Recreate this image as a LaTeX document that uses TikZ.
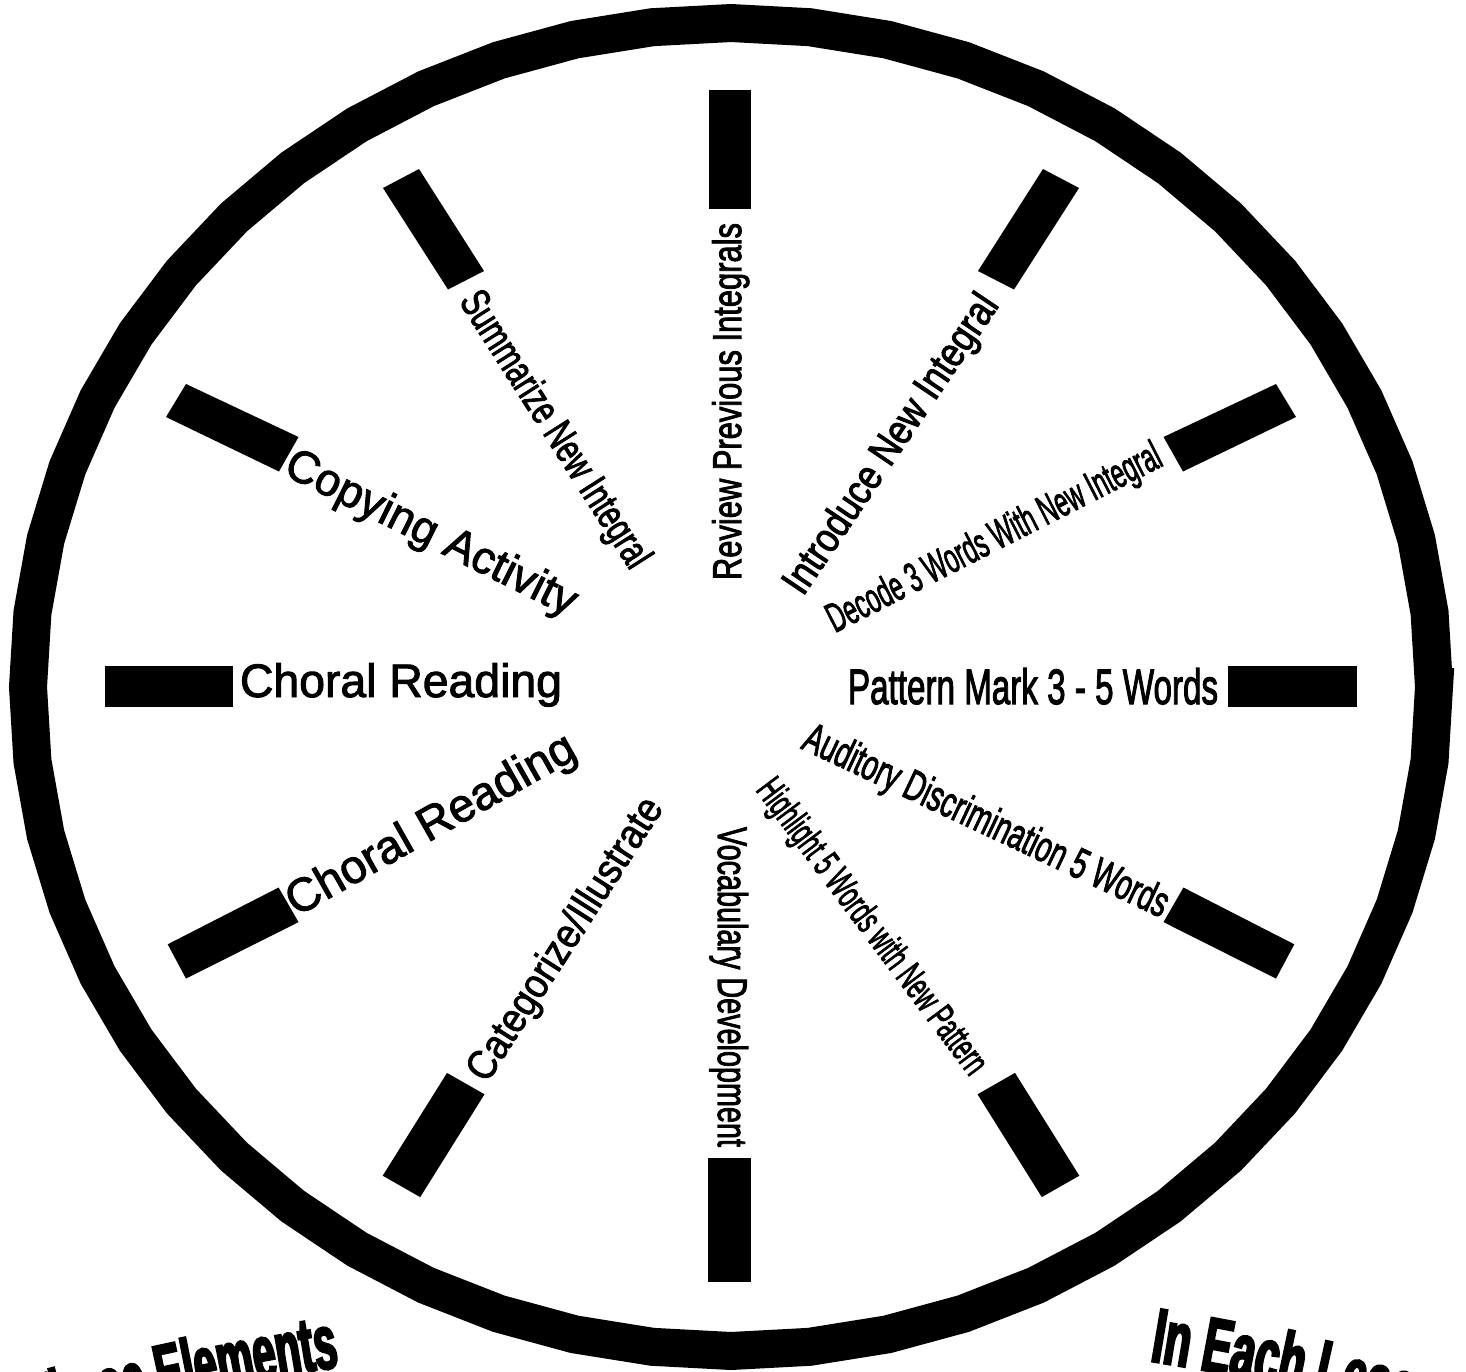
\documentclass[tikz,border=0pt]{standalone}
\usepackage{fontspec}
\usepackage{graphicx}
\setmainfont{Liberation Sans}
\newfontfamily\regfam{Liberation Sans}[FakeBold=2]
\newfontfamily\narfam{Liberation Sans}[FakeBold=2.5]
\newfontfamily\impfam{Liberation Sans Bold}[FakeStretch=0.56,FakeBold=3]
\newfontfamily\impfamL{Liberation Sans Bold}[FakeStretch=0.53,FakeBold=3]
\usetikzlibrary{decorations.text}
\tikzset{
  lab/.style={anchor=base west, inner sep=0pt, outer sep=0pt, font=\narfam},
  reglab/.style={lab, font=\regfam},
  spoke/.style={fill=black},
  ringline/.style={draw=black, line width=38pt, line join=miter},
}
\newcommand\mylbl[3]{\resizebox{#1pt}{#2pt}{#3}}
\newcommand\impsize{\impfam\fontsize{77}{77}\selectfont}
\newcommand\impsizeL{\impfamL\fontsize{77}{77}\selectfont}
\begin{document}
\begin{tikzpicture}[x=1pt,y=-1pt]
\useasboundingbox (0,0) rectangle (1466,1371);
\clip (0,0) rectangle (1466,1371);
\fill[white] (0,0) rectangle (1466,1371);
% ring
\draw[ringline] plot[domain=0:360, samples=57] ({731+703*cos(\x)},{687+664*sin(\x)}) -- cycle;
% spokes
\fill[spoke] (709,90) -- (751,90) -- (751,209) -- (709,209) -- cycle;
\fill[spoke] (708,1158) -- (751,1158) -- (751,1282) -- (708,1282) -- cycle;
\fill[spoke] (105,666) -- (233,666) -- (233,707) -- (105,707) -- cycle;
\fill[spoke] (1228,666) -- (1357,666) -- (1357,707) -- (1228,707) -- cycle;
\fill[spoke] (383,188) -- (419,169) -- (484,271) -- (448,289.5) -- cycle;
\fill[spoke] (1079,188) -- (1043,169) -- (978,271) -- (1014,289.5) -- cycle;
\fill[spoke] (166,417) -- (186,384) -- (298.5,437) -- (279,471.5) -- cycle;
\fill[spoke] (1296,417) -- (1276,384) -- (1163.5,437) -- (1183,471.5) -- cycle;
\fill[spoke] (167.7,944.3) -- (278.6,887.5) -- (298.5,922.1) -- (186,978.6) -- cycle;
\fill[spoke] (1294.3,944.3) -- (1183.4,887.5) -- (1163.5,922.1) -- (1276,978.6) -- cycle;
\fill[spoke] (447,1072.9) -- (484.5,1094.3) -- (420.2,1197.1) -- (382.7,1175.7) -- cycle;
\fill[spoke] (1015,1072.9) -- (977.5,1094.3) -- (1041.8,1197.1) -- (1079.3,1175.7) -- cycle;
% labels
\node[lab, rotate=90] (review) at (741,580) {\mylbl{357}{29}{Review Previous Integrals}};
\node[lab, rotate=-90] (vocab) at (718,827) {\mylbl{320}{30}{Vocabulary Development}};
\node[lab] (pattern) at (848,704) {\mylbl{370}{36}{Pattern Mark 3 - 5 Words}};
\node[reglab] (choralA) at (240,697) {\mylbl{322}{34}{Choral Reading}};
\node[reglab, rotate=29.5] (choralB) at (296.5,917) {\mylbl{325}{34}{Choral Reading}};
\node[reglab, rotate=-26.5] (copying) at (282,474) {\mylbl{320}{33}{Copying Activity}};
\node[lab, rotate=-57.5] (summ) at (458.6,301.4) {\mylbl{320}{30}{Summarize New Integral}};
\node[lab, rotate=56] (intro) at (803,597) {\mylbl{352}{30}{Introduce New Integral}};
\node[lab, rotate=27] (decode) at (835,633) {\mylbl{370}{30}{Decode 3 Words With New Integral}};
\node[lab, rotate=-25.2] (audit) at (800,748) {\mylbl{399}{31}{Auditory Discrimination 5 Words}};
\node[lab, rotate=-53.2] (highlight) at (755,790) {\mylbl{359}{28}{Highlight 5 Words with New Pattern}};
\node[reglab, rotate=57.3] (categ) at (487,1084) {\mylbl{328}{30}{Categorize/Illustrate}};
% bottom arched texts
\path[decorate, decoration={text along path, text={|\impsizeL|These Elements}}]
  plot[domain=254.93:272, samples=60] ({731+2675*cos(\x)},{4013+2675*sin(\x)});
\path[decorate, decoration={text along path, text={|\impsize|In Each Lesson}}]
  plot[domain=279:300, samples=60] ({731+2675*cos(\x)},{4003+2675*sin(\x)});
\end{tikzpicture}
\end{document}
